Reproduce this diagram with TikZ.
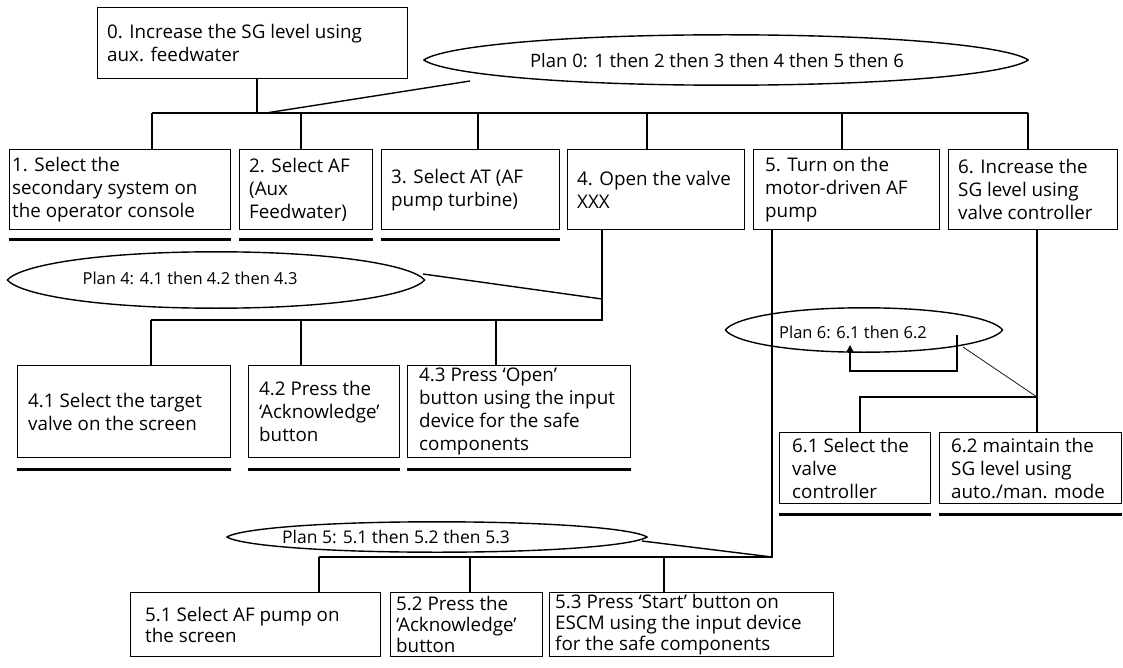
\documentclass[tikz,border=0pt]{standalone}
\usepackage{fontspec}
\setmainfont{Open Sans}
\usetikzlibrary{arrows.meta,calc}
\newcommand\mkbox[8]{%
  \node[tbox,minimum width=#4pt,minimum height=#5pt] (#1) at (#2,#3) {};
  \node[btext,#7] (#1t) at ([xshift=#6pt]#1.west) {#8};}
\newcommand\lensof[1]{%
  \draw[planline] (#1.west)
    .. controls ($(#1.west)!0.55!($(#1.north west)!0.12!(#1.north)$)$) and ($(#1.north west)!0.45!(#1.north)$) .. (#1.north)
    .. controls ($(#1.north east)!0.45!(#1.north)$) and ($(#1.east)!0.55!($(#1.north east)!0.12!(#1.north)$)$) .. (#1.east)
    .. controls ($(#1.east)!0.55!($(#1.south east)!0.12!(#1.south)$)$) and ($(#1.south east)!0.45!(#1.south)$) .. (#1.south)
    .. controls ($(#1.south west)!0.45!(#1.south)$) and ($(#1.west)!0.55!($(#1.south west)!0.12!(#1.south)$)$) .. cycle;}
\begin{document}
\begin{tikzpicture}[x=1pt,y=-1pt,
  tbox/.style={draw,line width=1.4pt,anchor=north west,inner sep=0pt},
  btext/.style={anchor=west,align=left,inner sep=0pt,font=\fontsize{18.8}{23}\selectfont},
  tight/.style={font=\fontsize{18.8}{21}\selectfont},
  plan/.style={rectangle,inner sep=0pt},
  planline/.style={line width=1.4pt,line join=round},
  ptext/.style={inner sep=0pt},
  link/.style={line width=1.4pt},
  uline/.style={line width=2.3pt},
  thinlink/.style={line width=0.7pt}]
\useasboundingbox (0,0) rectangle (1123,668);
% level 0
\mkbox{b0}{97}{7}{310}{71}{10}{}{0. Increase the SG level using\\aux. feedwater}
\node[plan,minimum width=604pt,minimum height=50pt] (p0) at (726,60) {};
\lensof{p0}
\node[ptext,font=\fontsize{18.5}{22}\selectfont] (p0t) at (717,61) {Plan 0: 1 then 2 then 3 then 4 then 5 then 6};
% level 1
\mkbox{b1}{9}{149}{221}{80}{3}{}{1. Select the\\secondary system on\\the operator console}
\mkbox{b2}{239}{149}{133}{80}{10}{}{2. Select AF\\(Aux\\Feedwater)}
\mkbox{b3}{381}{149}{178}{80}{10}{}{3. Select AT (AF\\pump turbine)}
\mkbox{b4}{567}{149}{177}{80}{10}{}{4. Open the valve\\XXX}
\mkbox{b5}{753}{149}{186}{80}{12}{}{5. Turn on the\\motor-driven AF\\pump}
\mkbox{b6}{948}{149}{169}{80}{10}{}{6. Increase the\\SG level using\\valve controller}
% bus 0
\coordinate (j0) at (257,113);
\coordinate (d1) at (152,113);
\coordinate (d2) at (301,113);
\coordinate (d3) at (478,113);
\coordinate (d4) at (647,113);
\coordinate (d5) at (842,113);
\coordinate (d6) at (1028,113);
\coordinate (p0tail) at (470,81);
\coordinate (p0end) at (266,113);
\draw[link] (j0 |- b0.south) -- (j0);
\draw[link] (d1) -- (d6);
\foreach \i in {1,...,6} {\draw[link] (d\i) -- (d\i |- b\i.north);}
\draw[link] (p0tail) -- (p0end);
% underlines level 1
\foreach \i in {1,2,3} {\draw[uline] ([yshift=-9pt]b\i.south west) -- ([yshift=-9pt]b\i.south east);}
% level 4.x
\mkbox{b41}{17}{365}{213}{92}{11}{}{4.1 Select the target\\valve on the screen}
\mkbox{b42}{248}{365}{151}{92}{11}{}{4.2 Press the\\‘Acknowledge’\\button}
\mkbox{b43}{407}{365}{223}{92}{12}{}{4.3 Press ‘Open’\\button using the input\\device for the safe\\components}
\node[plan,minimum width=417pt,minimum height=56pt] (p4) at (216,280) {};
\lensof{p4}
\node[ptext,font=\fontsize{16.5}{20}\selectfont] (p4t) at (190,278) {Plan 4: 4.1 then 4.2 then 4.3};
\coordinate (j4) at (602,320);
\coordinate (d41) at (151,320);
\coordinate (d42) at (301,320);
\coordinate (d43) at (496,320);
\coordinate (p4tail) at (423,274);
\coordinate (p4end) at (602,299);
\draw[link] (j4 |- b4.south) -- (j4) -- (d41);
\foreach \i in {41,42,43} {\draw[link] (d\i) -- (d\i |- b\i.north);}
\draw[link] (p4tail) -- (p4end);
\foreach \i in {41,42,43} {\draw[uline] ([yshift=-11pt]b\i.south west) -- ([yshift=-11pt]b\i.south east);}
% level 6.x
\mkbox{b61}{779}{432}{151}{71}{13}{}{6.1 Select the\\valve\\controller}
\mkbox{b62}{939}{432}{182}{71}{12}{}{6.2 maintain the\\SG level using\\auto./man. mode}
\node[plan,minimum width=277pt,minimum height=44pt] (p6) at (864,330) {};
\lensof{p6}
\node[ptext,font=\fontsize{16.5}{20}\selectfont] (p6t) at (853,332) {Plan 6: 6.1 then 6.2};
\coordinate (j6) at (1037,397);
\coordinate (d61) at (860,397);
\draw[link] (j6 |- b6.south) -- (j6 |- b62.north);
\draw[link] (j6) -- (d61) -- (d61 |- b61.north);
\coordinate (a6s) at (957,335);
\coordinate (a6e) at (850,345);
\draw[link,-{Triangle[length=7pt,width=7pt]}] (a6s) -- (957,371) -| (a6e);
\coordinate (p6tail) at (963,347);
\draw[thinlink] (p6tail) -- (j6);
\foreach \i in {61,62} {\draw[uline] ([yshift=-10pt]b\i.south west) -- ([yshift=-10pt]b\i.south east);}
% level 5.x
\mkbox{b51}{130}{592}{250}{64}{15}{tight}{5.1 Select AF pump on\\the screen}
\mkbox{b52}{390}{592}{152}{64}{6}{tight}{5.2 Press the\\‘Acknowledge’\\button}
\mkbox{b53}{549}{592}{284}{64}{6}{tight}{5.3 Press ‘Start’ button on\\ESCM using the input device\\for the safe components}
\node[plan,minimum width=420pt,minimum height=30pt] (p5) at (437,537) {};
\lensof{p5}
\node[ptext,font=\fontsize{17.5}{20}\selectfont] (p5t) at (396,537) {Plan 5: 5.1 then 5.2 then 5.3};
\coordinate (j5) at (772,557);
\coordinate (d51) at (319,557);
\coordinate (d52) at (470,557);
\coordinate (d53) at (664,557);
\coordinate (p5tail) at (642,541);
\draw[link] (j5 |- b5.south) -- (j5) -- (d51);
\foreach \i in {51,52,53} {\draw[link] (d\i) -- (d\i |- b\i.north);}
\draw[link] (p5tail) -- (j5);
\end{tikzpicture}
\end{document}
